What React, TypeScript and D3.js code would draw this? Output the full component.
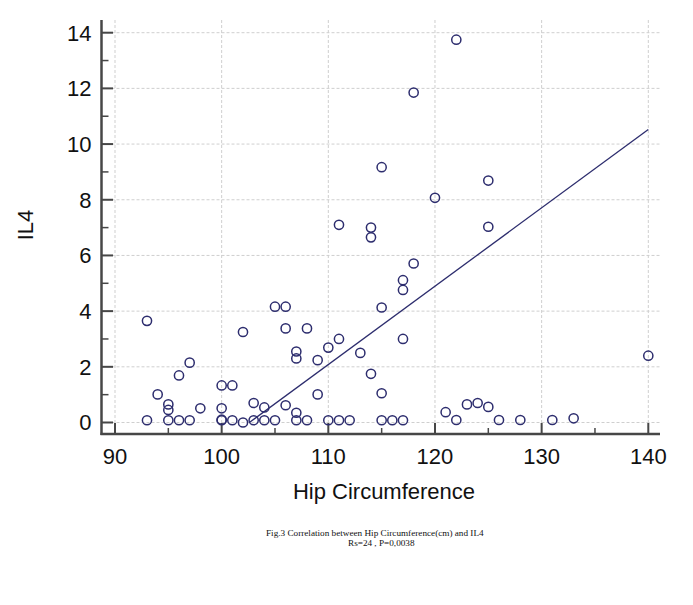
import React from "react";
import * as d3 from "d3";

const hipCm = [93, 93, 94, 95, 95, 95, 96, 96, 97, 97, 98, 100, 100, 100, 100, 101, 101, 102, 102, 103, 103, 104, 104, 105, 105, 106, 106, 106, 107, 107, 107, 107, 108, 108, 109, 109, 110, 110, 111, 111, 111, 112, 113, 114, 114, 114, 115, 115, 115, 115, 116, 117, 117, 117, 117, 118, 118, 120, 121, 122, 122, 123, 124, 125, 125, 125, 126, 128, 131, 133, 140];
const il4 = [3.65, 0.08, 1.01, 0.65, 0.45, 0.08, 1.69, 0.08, 2.15, 0.08, 0.51, 1.33, 0.51, 0.08, 0.1, 1.33, 0.08, 3.25, 0.0, 0.7, 0.08, 0.54, 0.08, 4.16, 0.08, 4.16, 3.38, 0.62, 2.55, 2.3, 0.35, 0.08, 3.38, 0.08, 2.24, 1.01, 2.69, 0.08, 3.0, 7.1, 0.08, 0.08, 2.5, 7.0, 6.65, 1.75, 9.17, 4.13, 1.05, 0.08, 0.08, 5.11, 4.76, 3.0, 0.08, 11.85, 5.71, 8.07, 0.37, 13.75, 0.09, 0.65, 0.7, 8.69, 7.03, 0.56, 0.09, 0.09, 0.09, 0.15, 2.4];

const xTicks = [90, 100, 110, 120, 130, 140];
const xMinor = [95, 105, 115, 125, 135];
const yTicks = [0, 2, 4, 6, 8, 10, 12, 14];
const yMinor = [1, 3, 5, 7, 9, 11, 13];

const regSlope = 0.2813;
const regIntercept = -28.86;

const xLabel = "Hip Circumference";
const yLabel = "IL4";
const caption1 = "Fig.3 Correlation between Hip Circumference(cm) and IL4";
const caption2 = "Rs=24 , P=0,0038";

export default function App() {
  const x = d3.scaleLinear().domain([90, 140]).range([115, 648.3]);
  const y = d3.scaleLinear().domain([0, 14]).range([422.5, 32.7]);
  const left = 101.5;
  const bottom = 434;
  const top = 20;
  const right = 660;
  const axisColor = "#474747";
  const navy = "#2d2d6e";
  const font = "'Liberation Sans', Arial, sans-serif";

  const xStart = -regIntercept / regSlope;
  const xEnd = d3.max(hipCm) as number;
  const line = d3
    .line<number>()
    .x((d) => x(d))
    .y((d) => y(regSlope * d + regIntercept));

  return (
    <svg
      width={693}
      height={605}
      style={{ position: "absolute", left: 0, top: 0, background: "#fff" }}
    >
      {/* grid */}
      {xTicks.map((t) => (
        <line key={"gx" + t} x1={x(t)} x2={x(t)} y1={top} y2={bottom} stroke="#cfcfcf" strokeWidth={1} strokeDasharray="3,2" />
      ))}
      {yTicks.map((t) => (
        <line key={"gy" + t} x1={left} x2={right} y1={y(t)} y2={y(t)} stroke="#cfcfcf" strokeWidth={1} strokeDasharray="3,2" />
      ))}
      {/* axes */}
      <line x1={left} x2={left} y1={top} y2={bottom + 1} stroke={axisColor} strokeWidth={2.5} />
      <line x1={left - 1} x2={right} y1={bottom} y2={bottom} stroke={axisColor} strokeWidth={2.5} />
      {yTicks.map((t) => (
        <line key={"ty" + t} x1={left} x2={left + 11.5} y1={y(t)} y2={y(t)} stroke={axisColor} strokeWidth={2} />
      ))}
      {yMinor.map((t) => (
        <line key={"tym" + t} x1={left} x2={left + 7} y1={y(t)} y2={y(t)} stroke={axisColor} strokeWidth={1.5} />
      ))}
      {xTicks.map((t) => (
        <line key={"tx" + t} x1={x(t)} x2={x(t)} y1={bottom} y2={bottom - 11} stroke={axisColor} strokeWidth={2} />
      ))}
      {xMinor.map((t) => (
        <line key={"txm" + t} x1={x(t)} x2={x(t)} y1={bottom} y2={bottom - 6} stroke={axisColor} strokeWidth={1.5} />
      ))}
      {/* tick labels */}
      {yTicks.map((t) => (
        <text key={"ly" + t} x={91.5} y={y(t)} dy="0.36em" textAnchor="end" fontFamily={font} fontSize={22} fill="#111">
          {t}
        </text>
      ))}
      {xTicks.map((t) => (
        <text key={"lx" + t} x={x(t)} y={464.3} textAnchor="middle" fontFamily={font} fontSize={22} fill="#111">
          {t}
        </text>
      ))}
      {/* axis titles */}
      <text x={384} y={499.3} textAnchor="middle" fontFamily={font} fontSize={22} fill="#111">
        {xLabel}
      </text>
      <text transform="translate(33.3,225) rotate(-90)" textAnchor="middle" fontFamily={font} fontSize={22} fill="#111">
        {yLabel}
      </text>
      {/* regression line */}
      <path d={line([xStart, xEnd]) || ""} fill="none" stroke={navy} strokeWidth={1.3} />
      {/* points */}
      {hipCm.map((h, i) => (
        <circle key={"p" + i} cx={x(h)} cy={y(il4[i])} r={4.6} fill="none" stroke={navy} strokeWidth={1.5} />
      ))}
      {/* caption */}
      <text x={266} y={535.5} fontFamily="'Liberation Serif', 'Times New Roman', serif" fontSize={9.2} fill="#111">
        {caption1}
      </text>
      <text x={348} y={545.7} fontFamily="'Liberation Serif', 'Times New Roman', serif" fontSize={9.2} fill="#111">
        {caption2}
      </text>
    </svg>
  );
}
